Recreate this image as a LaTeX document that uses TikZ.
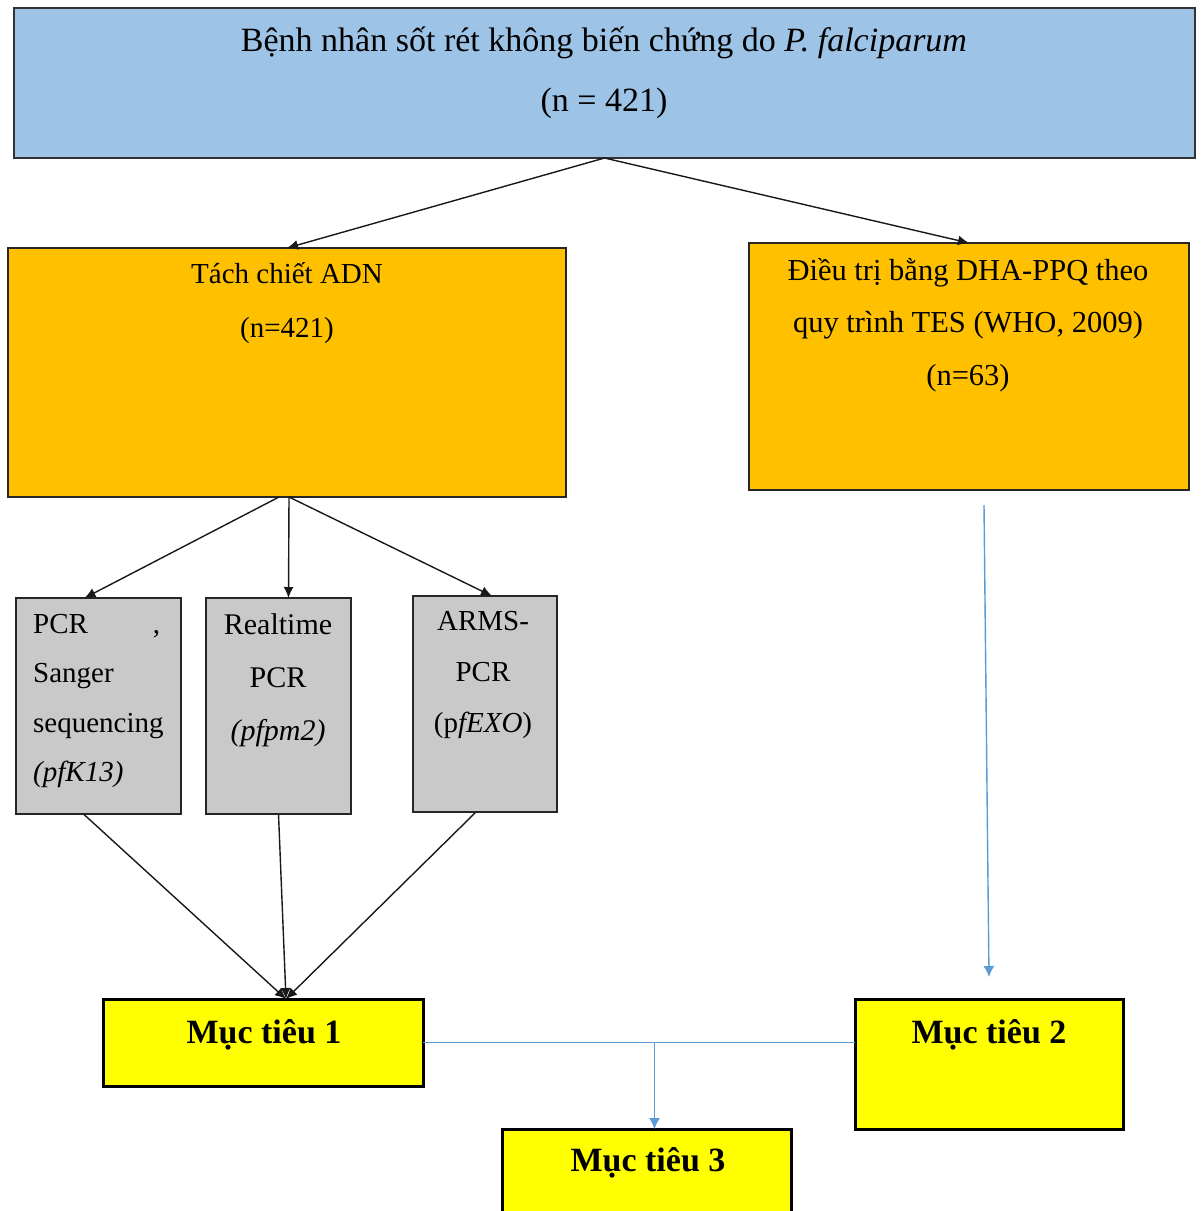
\documentclass[tikz,border=0pt]{standalone}
\usepackage{fontspec}
\setmainfont{Liberation Serif}
\usetikzlibrary{arrows.meta,calc}
\definecolor{topblue}{HTML}{9DC3E6}
\definecolor{orangefill}{HTML}{FFC000}
\definecolor{grayfill}{HTML}{C9C9C9}
\definecolor{goalfill}{HTML}{FFFF00}
\definecolor{lineblue}{HTML}{5B9BD5}
\begin{document}
\begin{tikzpicture}[x=1pt,y=-1pt,
  boxbase/.style={rectangle, anchor=north west, inner sep=0pt, outer sep=0pt},
  bluebox/.style={boxbase, draw=black!80, line width=1.5pt, fill=topblue},
  orangebox/.style={boxbase, draw=black!85, line width=1.5pt, fill=orangefill},
  graybox/.style={boxbase, draw=black!85, line width=1.5pt, fill=grayfill},
  goalbox/.style={boxbase, draw=black, line width=3pt, fill=goalfill},
  txt/.style={anchor=base, inner sep=0pt, align=center},
  goaltxt/.style={anchor=base, inner sep=0pt, font=\fontsize{34}{40}\selectfont\bfseries},
  arr/.style={-{Latex[length=11pt,width=10pt]}, line width=1.4pt, black!90},
  bluearr/.style={-{Latex[length=11pt,width=11pt]}, line width=1.4pt, lineblue},
  blueline/.style={line width=1.4pt, lineblue}]
\clip (0,0) rectangle (1201,1211);
\fill[white] (0,0) rectangle (1201,1211);
% boxes
\node[bluebox, minimum width=1181pt, minimum height=150pt] (top) at (14,8) {};
\node[orangebox, minimum width=558pt, minimum height=249pt] (tach) at (8,248) {};
\node[orangebox, minimum width=440pt, minimum height=247pt] (dha) at (749,243) {};
\node[graybox, minimum width=165pt, minimum height=216pt] (g1) at (16,598) {};
\node[graybox, minimum width=145pt, minimum height=216pt] (g2) at (206,598) {};
\node[graybox, minimum width=144pt, minimum height=216pt] (g3) at (413,596) {};
\node[goalbox, minimum width=320pt, minimum height=87pt] (m1) at (103,999) {};
\node[goalbox, minimum width=268pt, minimum height=130pt] (m2) at (855,999) {};
\node[goalbox, minimum width=289pt, minimum height=130pt] (m3) at (502,1129) {};
% texts (anchor base = baseline of the last line)
\node[txt, font=\fontsize{34}{60}\selectfont] (t0) at (604,111)
  {Bệnh nhân sốt rét không biến chứng do \textit{P. falciparum}\\(n = 421)};
\node[txt, font=\fontsize{29}{54}\selectfont] (t1) at (287,337)
  {Tách chiết ADN\\(n=421)};
\node[txt, font=\fontsize{30.5}{52.5}\selectfont] (t2) at (968,385)
  {Điều trị bằng DHA-PPQ theo\\quy trình TES (WHO, 2009)\\(n=63)};
\node[anchor=base west, inner sep=0pt, text width=127pt, align=left,
  font=\fontsize{29}{49.5}\selectfont] (tg1) at (33,633)
  {PCR\hfill,\\Sanger\\sequencing\\\textit{(pfK13)}};
\node[txt, font=\fontsize{30}{53}\selectfont] (tg2) at (278,740)
  {Realtime\\PCR\\\textit{(pfpm2)}};
\node[txt, font=\fontsize{29}{51}\selectfont] (tg3) at (483,732)
  {ARMS-\\PCR\\(p\textit{fEXO})};
\node[goaltxt] (tm1) at (264,1043) {Mục tiêu 1};
\node[goaltxt] (tm2) at (989,1043) {Mục tiêu 2};
\node[goaltxt] (tm3) at (648,1171) {Mục tiêu 3};
% connectors
\draw[arr] (top.south) -- (tach.north);
\draw[arr] (top.south) -- (dha.north);
\draw[arr] ($(tach.south)+(-8,0)$) -- ($(g1.north)+(-14,0)$);
\draw[arr] ($(tach.south)+(2,0)$) -- ($(g2.north)+(10,0)$);
\draw[arr] ($(tach.south)+(2,0)$) -- ($(g3.north)+(7,0)$);
\coordinate (m1in) at ($(m1.north)+(23,0)$);
\draw[arr] ($(g1.south)+(-15,0)$) -- (m1in);
\draw[arr] (g2.south) -- (m1in);
\draw[arr] ($(g3.south)+(-9,0)$) -- (m1in);
\coordinate (b1) at ($(dha.south)+(15,15)$);
\coordinate (b2) at ($(m2.north)+(0,-22)$);
\draw[bluearr] (b1) -- (b2);
\draw[blueline] (m1.east) -- (m1.east -| m2.west);
\coordinate (j) at ($(m1.east -| m3.north)+(8,0)$);
\draw[bluearr] (j) -- (j |- m3.north);
\end{tikzpicture}
\end{document}
